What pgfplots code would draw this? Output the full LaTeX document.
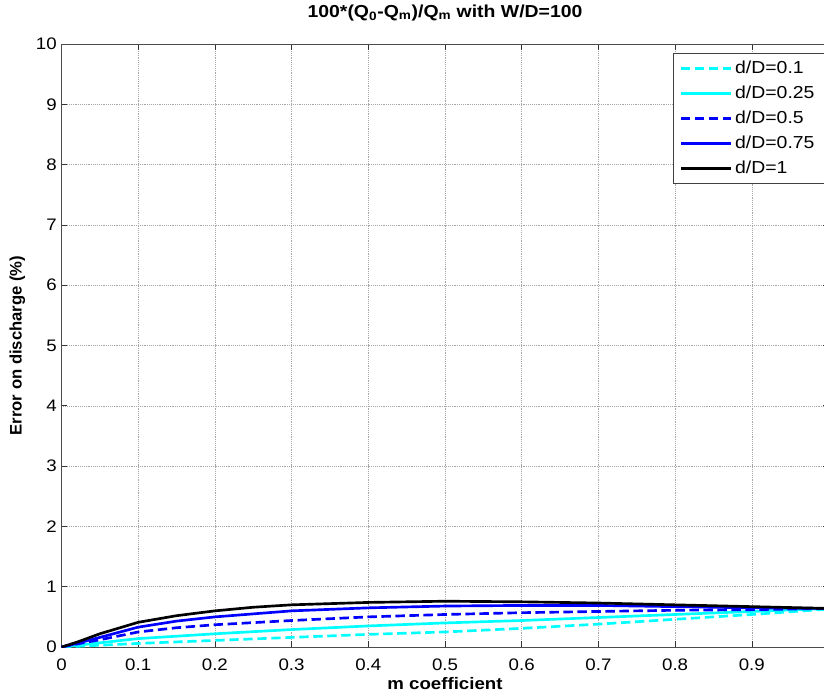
\documentclass[border=0pt]{standalone}
\usepackage{fontspec}
\setmainfont[FakeStretch=1.12]{Liberation Sans}
\newfontfamily\plainfont{Liberation Sans}
\usepackage{pgfplots}
\pgfplotsset{compat=1.18}
\definecolor{mcyan}{rgb}{0,1,1}
\definecolor{mblue}{rgb}{0,0,1}
\begin{document}
\begin{tikzpicture}
\begin{axis}[
  scale only axis,
  width=575.25pt, height=452.25pt,
  xmin=0, xmax=1, ymin=0, ymax=10,
  xtick={0,0.1,0.2,0.3,0.4,0.5,0.6,0.7,0.8,0.9},
  xticklabels={0,0.1,0.2,0.3,0.4,0.5,0.6,0.7,0.8,0.9},
  ytick={0,1,...,10},
  /pgf/number format/assume math mode=true,
  tick label style={font=\fontsize{12.5}{14}\selectfont},
  xticklabel style={anchor=center, yshift=-13.5pt},
  tick align=inside,
  tick pos=both,
  major tick length=4.5pt,
  grid=major,
  major grid style={densely dotted, gray!70, line width=0.4pt},
  axis line style={gray!60!black, line width=0.6pt},
  every tick/.style={gray!40!black, line width=0.5pt},
  xlabel={\bfseries m coefficient},
  ylabel={\plainfont\bfseries Error on discharge (\%)},
  xlabel style={font=\fontsize{12.5}{14}\selectfont, at={(axis description cs:0.5,-0.0597)}, anchor=center},
  ylabel style={font=\fontsize{12.5}{14}\selectfont, at={(axis description cs:-0.0574,0.5)}, anchor=center},
  title={\bfseries 100*(Q\textsubscript{0}-Q\textsubscript{m})/Q\textsubscript{m} with W/D=100},
  every axis title shift=0pt,
  title style={font=\fontsize{13}{15}\selectfont, at={(axis description cs:0.5,1.0514)}, anchor=center},
  legend style={at={(rel axis cs:0.797,0.985)}, anchor=north west,
    font=\fontsize{13}{15}\selectfont, draw=gray!50!black, line width=0.5pt,
    row sep=3.75pt, inner xsep=5pt, inner ysep=4pt},
  legend cell align=left,
  legend image code/.code={\draw[#1] (0pt,0pt) -- (37.5pt,0pt);},
]
\addplot[mcyan, line width=2pt, dash pattern=on 7pt off 3.5pt] coordinates {
 (0,0) (0.05,0.03) (0.1,0.06) (0.2,0.11) (0.3,0.16) (0.4,0.21) (0.5,0.25)
 (0.6,0.31) (0.7,0.38) (0.8,0.46) (0.9,0.54) (1.0,0.63)};
\addlegendentry{d/D=0.1}
\addplot[mcyan, line width=2pt] coordinates {
 (0,0) (0.05,0.07) (0.1,0.14) (0.2,0.22) (0.3,0.29) (0.4,0.35) (0.5,0.40)
 (0.6,0.44) (0.7,0.49) (0.8,0.54) (0.9,0.59) (1.0,0.64)};
\addlegendentry{d/D=0.25}
\addplot[mblue, line width=2pt, dash pattern=on 7pt off 3.5pt] coordinates {
 (0,0) (0.02,0.05) (0.05,0.12) (0.1,0.25) (0.15,0.32) (0.2,0.37) (0.3,0.44)
 (0.4,0.50) (0.5,0.54) (0.6,0.57) (0.7,0.59) (0.8,0.61) (0.9,0.62) (1.0,0.64)};
\addlegendentry{d/D=0.5}
\addplot[mblue, line width=2pt] coordinates {
 (0,0) (0.02,0.06) (0.05,0.16) (0.1,0.33) (0.15,0.43) (0.2,0.50) (0.3,0.60)
 (0.4,0.65) (0.5,0.68) (0.6,0.69) (0.7,0.69) (0.8,0.67) (0.9,0.65) (1.0,0.64)};
\addlegendentry{d/D=0.75}
\addplot[black, line width=2pt] coordinates {
 (0,0) (0.02,0.08) (0.05,0.22) (0.1,0.41) (0.15,0.52) (0.2,0.60) (0.25,0.66)
 (0.3,0.70) (0.4,0.74) (0.5,0.76) (0.6,0.75) (0.7,0.73) (0.8,0.70) (0.9,0.67) (1.0,0.64)};
\addlegendentry{d/D=1}
\coordinate (sw) at (rel axis cs:0,0);
\coordinate (ne) at (rel axis cs:1,1);
\end{axis}
\pgfresetboundingbox
\path[use as bounding box] ([xshift=-46.1pt,yshift=-36pt]sw) rectangle ([xshift=-3.4pt,yshift=33pt]ne);
\end{tikzpicture}
\end{document}
